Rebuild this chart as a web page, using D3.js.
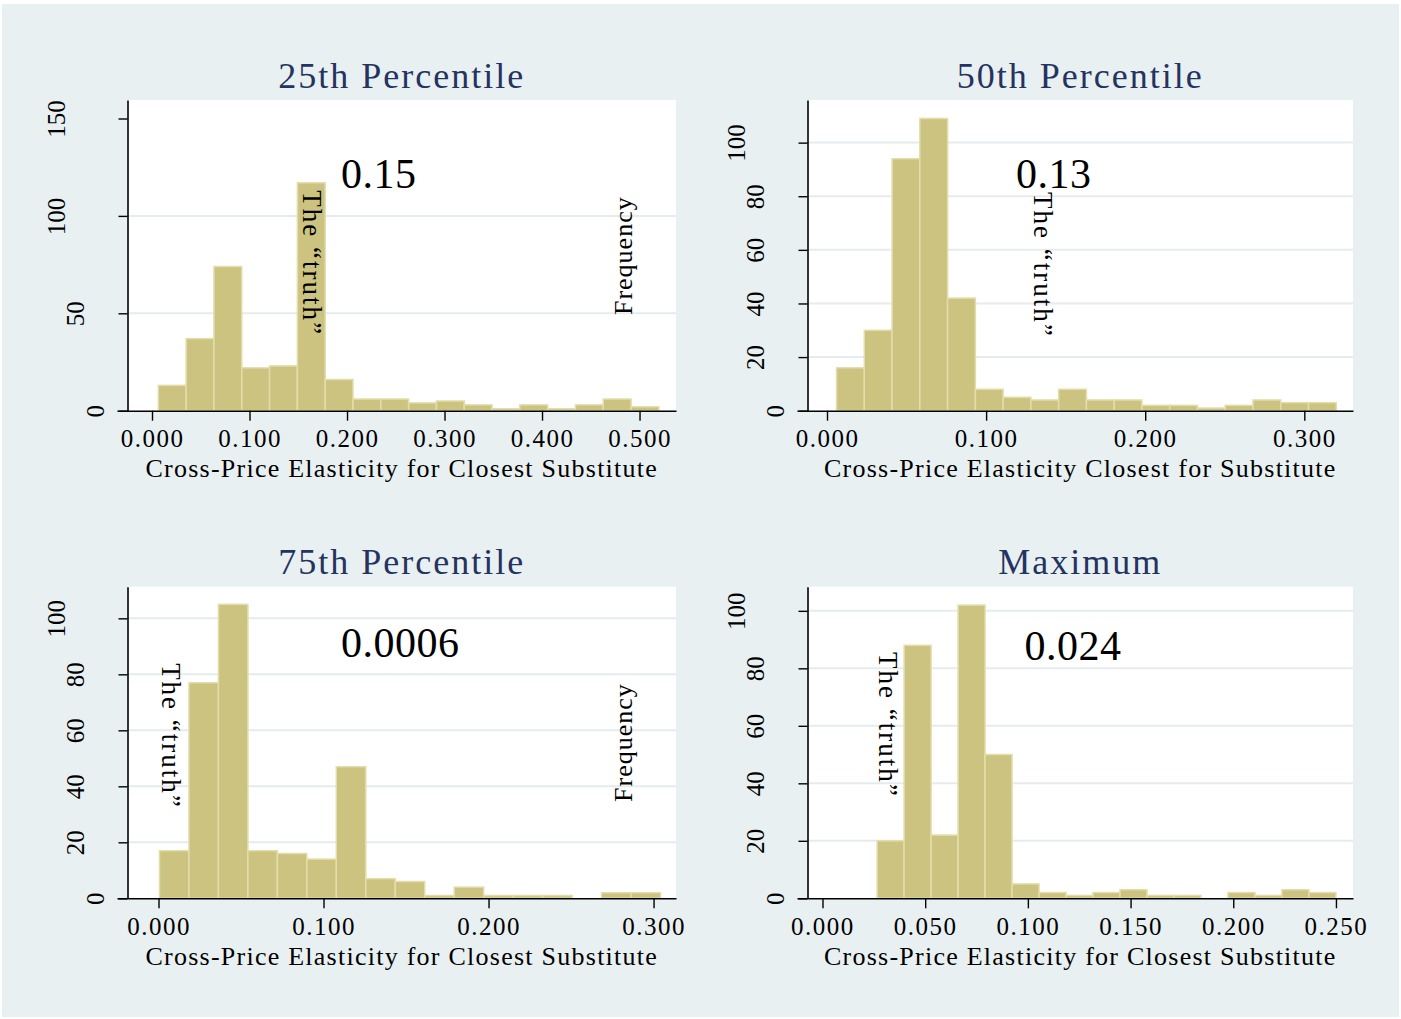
<!DOCTYPE html>
<html>
<head>
<meta charset="utf-8">
<script src="https://cdn.jsdelivr.net/npm/d3@7"></script>
<style>
  html, body { margin: 0; padding: 0; background: #ffffff; }
  svg { display: block; }
</style>
</head>
<body>
<svg id="chart" width="1401" height="1019"></svg>
<script>
// ---------------- DATA ----------------
const panelTitles = ["25th Percentile", "50th Percentile", "75th Percentile", "Maximum"];
const xAxisTitles = [
  "Cross-Price Elasticity for Closest Substitute",
  "Cross-Price Elasticity Closest for Substitute",
  "Cross-Price Elasticity for Closest Substitute",
  "Cross-Price Elasticity for Closest Substitute"
];
// histogram frequencies (one value per bin)
const p25Counts = [13, 37, 74, 22, 23, 117, 16, 6, 6, 4, 5, 3, 1, 3, 1, 3, 6, 2];
const p50Counts = [16, 30, 94, 109, 42, 8, 5, 4, 8, 4, 4, 2, 2, 1, 2, 4, 3, 3];
const p75Counts = [17, 77, 105, 17, 16, 14, 47, 7, 6, 1, 4, 1, 1, 1, 0, 2, 2];
const maxCounts = [20, 88, 22, 102, 50, 5, 2, 1, 2, 3, 1, 1, 0, 2, 1, 3, 2];
// bin layout: first bin start and bin width
const binStarts = [0.0065, 0.006, 0.0006, 0.0266];
const binWidths = [0.02852, 0.01745, 0.01786, 0.01314];
// axis ranges
const xDomains = [[-0.0359, 0.5374], [-0.01886, 0.3306], [-0.02515, 0.3136], [-0.01241, 0.2583]];
const yMaxes = [159.5, 115.9, 111.3, 108.4];
// ticks
const xTickValues = [
  [0, 0.1, 0.2, 0.3, 0.4, 0.5],
  [0, 0.1, 0.2, 0.3],
  [0, 0.1, 0.2, 0.3],
  [0, 0.05, 0.1, 0.15, 0.2, 0.25]
];
const yTickValues = [
  [0, 50, 100, 150],
  [0, 20, 40, 60, 80, 100],
  [0, 20, 40, 60, 80, 100],
  [0, 20, 40, 60, 80, 100]
];
const yGridValues = [
  [50, 100],
  [20, 40, 60, 80, 100],
  [20, 40, 60, 80, 100],
  [20, 40, 60, 80, 100]
];
// annotations (data coordinates)
const truthValues = ["0.15", "0.13", "0.0006", "0.024"];
const truthValuePos = [[0.1938, 114.3], [0.1188, 83.1], [0.1106, 86.2], [0.0984, 82.9]];
const truthLabel = "The \u201Ctruth\u201D";
const truthLabelPos = [[0.1544, 113.2], [0.1301, 81.6], [0.0021, 84.0], [0.0273, 85.7]];
const freqLabel = "Frequency";
const freqLabelPos = [[0.492, 49.1], null, [0.287, 34.4], null];

// ---------------- LAYOUT / STYLE ----------------
const FONT = "'Liberation Serif', 'Times New Roman', serif";
const colLeft = [117, 797];     // x-axis line start
const colRight = [676, 1353];   // plot right edge
const yAxisInset = 10.5;        // y axis offset from x-axis start
const rowTop = [100, 586.7];
const rowBottom = [410.7, 898.3];
const BAR_FILL = "#cbc37f";
const BAR_STROKE = "#e3ddab";
const BG = "#e9f0f2";
const GRID = "#e4ecef";
const TITLE_COLOR = "#24335f";

const svg = d3.select("#chart");
svg.append("rect").attr("x", 2).attr("y", 4).attr("width", 1397).attr("height", 1013).attr("fill", BG);

const countsList = [p25Counts, p50Counts, p75Counts, maxCounts];

countsList.forEach((counts, p) => {
  const col = p % 2, row = Math.floor(p / 2);
  const left = colLeft[col], right = colRight[col];
  const top = rowTop[row], bottom = rowBottom[row];
  const yAxisX = left + yAxisInset;

  const x = d3.scaleLinear().domain(xDomains[p]).range([left, right]);
  const y = d3.scaleLinear().domain([0, yMaxes[p]]).range([bottom, top]);

  const g = svg.append("g");

  // plot region
  g.append("rect").attr("x", yAxisX).attr("y", top)
    .attr("width", right - yAxisX).attr("height", bottom - top).attr("fill", "#ffffff");

  // grid
  g.selectAll(".grid").data(yGridValues[p]).join("line")
    .attr("x1", yAxisX).attr("x2", right)
    .attr("y1", d => y(d)).attr("y2", d => y(d))
    .attr("stroke", GRID).attr("stroke-width", 2);

  // bars
  const bins = counts.map((c, i) => ({
    x0: binStarts[p] + i * binWidths[p],
    x1: binStarts[p] + (i + 1) * binWidths[p],
    c: c
  })).filter(d => d.c > 0);
  g.selectAll(".bar").data(bins).join("rect")
    .attr("x", d => x(d.x0))
    .attr("y", d => y(d.c))
    .attr("width", d => x(d.x1) - x(d.x0))
    .attr("height", d => y(0) - y(d.c))
    .attr("fill", BAR_FILL)
    .attr("stroke", BAR_STROKE)
    .attr("stroke-width", 1.5);

  // x axis
  const xAxis = d3.axisBottom(x).tickValues(xTickValues[p]).tickFormat(d3.format(".3f"))
    .tickSize(10).tickSizeOuter(0).tickPadding(8);
  const gx = g.append("g").attr("transform", `translate(0,${bottom})`).call(xAxis);
  gx.select(".domain").attr("stroke", "#000").attr("stroke-width", 1.6);
  gx.selectAll(".tick line").attr("stroke", "#000").attr("stroke-width", 1.4);
  gx.selectAll(".tick text")
    .attr("y", 36.3).attr("dy", null)
    .style("font-family", FONT).style("font-size", "25px").style("letter-spacing", "1.5px")
    .attr("fill", "#000");

  // y axis
  const fmtY = d3.format("d");
  const yAxis = d3.axisLeft(y).tickValues(yTickValues[p]).tickFormat(fmtY)
    .tickSize(9).tickSizeOuter(0);
  const gy = g.append("g").attr("transform", `translate(${yAxisX},0)`).call(yAxis);
  gy.select(".domain").attr("stroke", "#000").attr("stroke-width", 1.6);
  gy.selectAll(".tick line").attr("stroke", "#000").attr("stroke-width", 1.4);
  gy.selectAll(".tick text")
    .attr("x", null).attr("dy", "0.35em")
    .attr("text-anchor", "middle")
    .attr("transform", d => `translate(${-(32.5 + 19.5 * (fmtY(d).length - 1))},0) rotate(-90)`)
    .style("font-family", FONT).style("font-size", "25px")
    .attr("fill", "#000");

  // title
  const cx = (yAxisX + right) / 2;
  g.append("text").attr("x", cx).attr("y", top - 12.3)
    .attr("text-anchor", "middle")
    .style("font-family", FONT).style("font-size", "36px").style("letter-spacing", "2px")
    .attr("fill", TITLE_COLOR)
    .text(panelTitles[p]);

  // x axis title
  g.append("text").attr("x", cx).attr("y", bottom + 66.3)
    .attr("text-anchor", "middle")
    .style("font-family", FONT).style("font-size", "26px").style("letter-spacing", "1.25px")
    .attr("fill", "#000")
    .text(xAxisTitles[p]);

  // truth value annotation
  g.append("text")
    .attr("x", x(truthValuePos[p][0])).attr("y", y(truthValuePos[p][1]))
    .style("font-family", FONT).style("font-size", "42px").style("letter-spacing", "0.5px")
    .attr("fill", "#000")
    .text(truthValues[p]);

  // "The truth" vertical label
  g.append("text")
    .attr("transform", `translate(${x(truthLabelPos[p][0])},${y(truthLabelPos[p][1])}) rotate(90)`)
    .style("font-family", FONT).style("font-size", "27px").style("letter-spacing", "2px")
    .attr("fill", "#000")
    .text(truthLabel);

  // Frequency label
  if (freqLabelPos[p]) {
    g.append("text")
      .attr("transform", `translate(${x(freqLabelPos[p][0])},${y(freqLabelPos[p][1])}) rotate(-90)`)
      .style("font-family", FONT).style("font-size", "26px").style("letter-spacing", "1px")
      .attr("fill", "#000")
      .text(freqLabel);
  }
});
</script>
</body>
</html>
